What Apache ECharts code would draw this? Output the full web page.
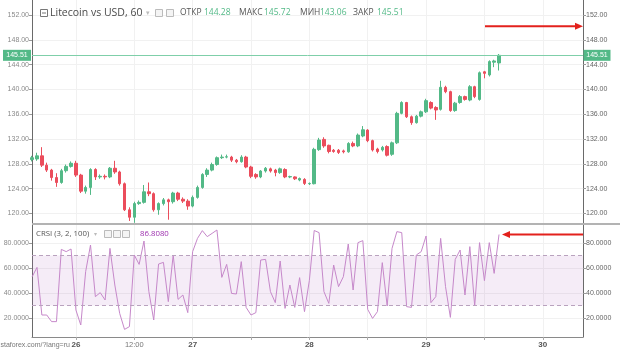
<!DOCTYPE html>
<html><head><meta charset="utf-8">
<script src="https://cdn.jsdelivr.net/npm/echarts@6/dist/echarts.min.js"></script>
<style>html,body{margin:0;padding:0;background:#fff;overflow:hidden}#c{width:620px;height:350px}</style>
</head><body><div id="c"></div>
<script>
// ---- data (hourly candles, first one = 25th 15:00) ----
const opens = [128.7,128.8,129.3,127.8,127.0,125.8,125.0,126.9,127.6,128.1,
126.2,123.6,124.2,127.1,125.9,126.0,125.9,127.3,126.7,124.8,
120.6,119.4,121.6,121.8,123.5,123.2,120.6,121.6,122.2,121.9,
123.3,122.3,122.0,121.2,122.6,124.2,126.3,127.0,127.9,129.0,
129.1,129.1,128.6,128.35,129.1,127.5,126.3,125.9,126.85,127.2,
127.0,126.6,127.1,125.9,125.9,125.4,125.5,124.8,124.8,130.3,
131.95,131.0,130.2,130.2,130.1,129.95,131.3,130.9,132.5,133.45,
131.75,130.4,130.25,130.8,129.55,131.4,136.15,137.9,135.6,134.65,
135.7,136.4,137.9,137.1,136.8,140.35,139.65,136.6,137.9,138.85,
138.3,140.45,138.4,142.85,142.35,144.4,144.28];
const closes = [129.0,129.3,127.8,127.0,125.8,125.0,126.9,127.6,128.1,126.2,
123.6,124.2,127.1,125.9,126.0,125.9,127.3,126.7,124.8,120.6,
119.4,121.6,121.8,123.5,123.2,120.6,121.6,122.2,121.9,123.3,
122.3,122.0,121.2,122.6,124.2,126.3,127.0,127.9,129.0,129.1,
129.15,128.6,128.35,129.1,127.5,126.0,125.9,126.85,127.3,126.85,
126.6,127.2,125.9,125.95,125.6,125.65,124.85,124.85,130.35,131.85,
130.9,130.0,130.0,129.85,129.95,131.3,130.9,132.65,133.5,131.75,
130.25,130.0,130.67,129.4,131.4,136.15,137.9,135.6,134.65,135.7,
136.4,138.2,137.0,136.7,140.35,139.65,136.6,137.8,138.85,138.4,
140.45,138.85,142.7,142.6,144.5,144.6,145.51];
const lows = [128.4,128.5,127.5,126.7,125.3,124.3,124.8,126.6,127.4,125.9,
123.3,123.2,123.0,125.4,125.6,125.5,125.7,126.4,124.5,120.4,
118.8,118.5,121.4,121.6,122.8,120.3,119.8,121.3,119.0,121.6,
122.0,121.7,120.6,121.0,122.4,124.0,125.9,126.8,127.7,128.8,
128.9,128.3,128.1,128.2,127.3,125.7,125.6,125.7,126.6,126.6,
126.0,126.4,125.7,125.7,125.4,125.2,124.6,124.6,124.7,130.1,
130.6,129.7,129.8,129.6,129.7,129.8,130.7,130.7,132.3,131.5,
130.0,129.7,130.0,129.2,129.3,131.2,136.0,135.4,134.3,134.5,
135.5,136.2,136.8,135.1,136.6,139.4,136.4,136.4,137.7,138.2,
138.1,138.6,138.2,141.8,142.1,143.6,143.06];
const highs = [129.3,129.8,130.7,128.2,127.2,126.5,127.2,127.9,128.4,128.5,
126.4,124.5,127.3,127.3,126.3,126.3,127.5,128.5,126.9,125.0,
121.0,121.9,122.1,124.6,125.0,123.4,121.8,122.5,122.4,123.5,
123.5,122.6,122.3,122.9,124.5,126.5,127.3,128.2,129.2,129.5,
129.5,129.3,128.8,129.4,129.3,127.7,126.5,127.0,127.5,127.4,
127.2,127.4,127.3,126.1,126.0,125.8,125.7,125.0,130.6,132.2,
132.3,131.1,130.4,130.4,130.3,131.5,131.6,132.9,134.1,133.6,
131.9,130.6,130.9,131.0,131.6,136.4,138.1,138.0,135.8,135.9,
136.6,138.5,138.1,137.3,141.4,140.6,139.8,138.0,139.1,139.0,
140.7,140.6,142.9,143.0,144.7,144.8,145.72];
const crsi = [53,60.5,22.4,22.4,17.1,17.1,74.9,73.1,75.2,26.4,
14.4,57.1,78.4,37.1,40.3,34.4,75.7,46.4,23.7,10.9,
13.1,70.4,62.9,81.6,41.1,18.4,63.2,64.5,33.1,70.4,
34.9,38.4,24.3,73.1,83.7,89.9,85.1,87.7,90.4,52.5,
62.9,39.7,39.2,65.1,28.5,22.4,24.3,66.4,66.9,41.1,
32.3,65.6,27.7,46.4,28.5,52.3,25.1,50,90,88.3,
41.1,31.7,62.4,45.1,53.1,79.2,42.4,80.3,81.9,26.9,
19.7,25.1,64.3,29.6,75.7,89.1,88.3,29.1,28.5,70.4,
73.1,85.6,32.3,37.1,83.7,45.1,20.5,66.9,74.4,38.4,
77.1,29.6,80.3,49.9,80.3,55.7,86.808];
const priceTicks = [120,124,128,132,136,140,144,148,152];
const crsiTicks = [20,40,60,80];
const timeTicks = [9,21,33,45,57,69,81,93,105];      // hour index of tick
const timeLabels = ['26','12:00','27','','28','','29','','30'];
const crsiBand = [30,70];
const arrowPrice = 150.2;   // level the upper arrow points at

const UP='#53b987', DOWN='#eb4d5c';
const candleData = opens.map((o,i)=>[i,o,closes[i],lows[i],highs[i]]);
const crsiData = crsi.map((v,i)=>[i,v]);
const last = opens.length-1;
const xMin=-0.03, xMax=113.27;

const chart = echarts.init(document.getElementById('c'));
const axisFont = {fontFamily:'Liberation Sans, Arial, sans-serif', fontSize:7};
function yAx(grid,pos,min,max,ticks,dec,lc){
  return {type:'value',gridIndex:grid,position:pos,min:min,max:max,scale:true,
    axisLine:{show:true,onZero:false,lineStyle:{color:'#6a6a6a',width:1}},
    axisTick:{show:true,length:3,customValues:ticks,lineStyle:{color:'#999'}},
    axisLabel:Object.assign({customValues:ticks,color:lc,margin:3,formatter:v=>v.toFixed(dec)},axisFont),
    splitLine:{show:pos==='left',lineStyle:{color:'#f1f1f1',width:1}}};
}
function xAx(grid,showLabels){
  return {type:'value',gridIndex:grid,min:xMin,max:xMax,
    axisLine:{show:showLabels,onZero:false,lineStyle:{color:'#8a8a8a'}},
    axisTick:{show:showLabels,length:3,inside:false,customValues:timeTicks,lineStyle:{color:'#aaa'}},
    axisLabel:{show:showLabels,customValues:timeTicks,margin:4,
      formatter:v=>{const k=timeTicks.indexOf(v);const t=k<0?'':timeLabels[k];
        return t.indexOf(':')>=0?'{n|'+t+'}':(t?'{d|'+t+'}':'');},
      rich:{d:{fontWeight:'bold',fontSize:8,color:'#555',fontFamily:'Liberation Sans, Arial'},
            n:{fontSize:7.5,color:'#777',fontFamily:'Liberation Sans, Arial'}}},
    splitLine:{show:true,lineStyle:{color:'#f1f1f1',width:1}}};
}
const option = {
  animation:false, backgroundColor:'#fff',
  grid:[{left:32,right:37,top:0,height:223,outerBoundsMode:'none'},
        {left:32,right:37,top:225,height:112,outerBoundsMode:'none'}],
  xAxis:[xAx(0,false),xAx(1,true)],
  yAxis:[yAx(0,'left',118.47,154.43,priceTicks,2,'#8a8a8a'),
         yAx(0,'right',118.47,154.43,priceTicks,2,'#666'),
         yAx(1,'left',4.8,94.4,crsiTicks,4,'#8a8a8a'),
         yAx(1,'right',4.8,94.4,crsiTicks,4,'#666')],
  series:[
    {type:'candlestick',xAxisIndex:0,yAxisIndex:0,data:candleData,encode:{x:0,y:[1,2,3,4]},
     barWidth:3,clip:true,
     itemStyle:{color:UP,color0:DOWN,borderColor:UP,borderColor0:DOWN,borderWidth:1},
     markLine:{silent:true,symbol:'none',animation:false,label:{show:false},
       lineStyle:{color:'#7fcfa9',width:1,type:'solid',opacity:1},data:[{yAxis:closes[last]}]}},
    {type:'line',xAxisIndex:1,yAxisIndex:2,data:crsiData,showSymbol:false,
     lineStyle:{color:'#c688ca',width:1},itemStyle:{color:'#c688ca'},
     markArea:{silent:true,itemStyle:{color:'rgba(175,95,190,0.12)'},
       data:[[{yAxis:crsiBand[0]},{yAxis:crsiBand[1]}]]},
     markLine:{silent:true,symbol:'none',label:{show:false},
       lineStyle:{color:'#b9a2be',width:1,type:[4,3]},
       data:[{yAxis:crsiBand[0]},{yAxis:crsiBand[1]}]}}
  ]
};
chart.setOption(option);

// ---- annotations positioned through the chart's scales ----
const yL = chart.convertToPixel({yAxisIndex:0}, closes[last]);
const yA = chart.convertToPixel({yAxisIndex:1}, arrowPrice);
const pC = chart.convertToPixel({xAxisIndex:1,yAxisIndex:2},[last,crsi[last]]);
const RED='#e3211c';
const F='"Open Sans", "Liberation Sans", Arial, sans-serif';
function box(x,y){return {type:'rect',shape:{x:x,y:y,width:7,height:7},style:{fill:'#f4f4f4',stroke:'#bbb',lineWidth:1}};}
const g = [
  {type:'line',shape:{x1:32,y1:224,x2:620,y2:224},style:{stroke:'#b3b3b3',lineWidth:2},z:50},
  // price labels
  {type:'rect',shape:{x:3,y:yL-5.5,width:28,height:11},style:{fill:UP},z:60},
  {type:'text',style:{x:17,y:yL,text:closes[last].toFixed(2),fill:'#fff',font:'7px Liberation Sans, Arial',align:'center',verticalAlign:'middle'},z:61},
  {type:'rect',shape:{x:583.5,y:yL-5.5,width:27,height:11},style:{fill:UP},z:60},
  {type:'text',style:{x:597,y:yL,text:closes[last].toFixed(2),fill:'#fff',font:'7px Liberation Sans, Arial',align:'center',verticalAlign:'middle'},z:61},
  // main legend
  {type:'rect',shape:{x:40.5,y:9.5,width:7,height:7},style:{fill:'#fff',stroke:'#777',lineWidth:1},z:60},
  {type:'line',shape:{x1:42,y1:13,x2:46,y2:13},style:{stroke:'#777',lineWidth:1},z:60},
  {type:'text',style:{x:50,y:13,text:'Litecoin vs USD, 60',fill:'#4a4a4a',font:'10.5px '+F,verticalAlign:'middle'},z:60},
  {type:'text',style:{x:146,y:13,text:'▾',fill:'#bbb',font:'7px DejaVu Sans',verticalAlign:'middle'},z:60},
  Object.assign(box(155.5,9.5),{z:60}), Object.assign(box(166.5,9.5),{z:60}),
  {type:'text',style:{x:180,y:13,text:'ОТКР',fill:'#555',font:'8.5px '+F,verticalAlign:'middle'},z:60},
  {type:'text',style:{x:204,y:13,text:opens[last].toFixed(2),fill:UP,font:'8.5px '+F,verticalAlign:'middle'},z:60},
  {type:'text',style:{x:239,y:13,text:'МАКС',fill:'#555',font:'8.5px '+F,verticalAlign:'middle'},z:60},
  {type:'text',style:{x:264,y:13,text:highs[last].toFixed(2),fill:UP,font:'8.5px '+F,verticalAlign:'middle'},z:60},
  {type:'text',style:{x:300,y:13,text:'МИН',fill:'#555',font:'8.5px '+F,verticalAlign:'middle'},z:60},
  {type:'text',style:{x:320,y:13,text:lows[last].toFixed(2),fill:UP,font:'8.5px '+F,verticalAlign:'middle'},z:60},
  {type:'text',style:{x:353,y:13,text:'ЗАКР',fill:'#555',font:'8.5px '+F,verticalAlign:'middle'},z:60},
  {type:'text',style:{x:377,y:13,text:closes[last].toFixed(2),fill:UP,font:'8.5px '+F,verticalAlign:'middle'},z:60},
  // CRSI legend
  {type:'text',style:{x:36,y:234,text:'CRSI (3, 2, 100)',fill:'#555',font:'7.8px '+F,verticalAlign:'middle'},z:60},
  {type:'text',style:{x:94,y:234,text:'▾',fill:'#bbb',font:'6px DejaVu Sans',verticalAlign:'middle'},z:60},
  Object.assign(box(104.5,230.5),{z:60}), Object.assign(box(113.5,230.5),{z:60}), Object.assign(box(122.5,230.5),{z:60}),
  {type:'text',style:{x:140,y:234,text:crsi[last].toFixed(4),fill:'#9c2fae',font:'7.8px '+F,verticalAlign:'middle'},z:60},
  // watermark
  {type:'text',style:{x:-5,y:345,text:'instaforex.com/?lang=ru',fill:'#777',font:'7px Liberation Sans, Arial',verticalAlign:'middle',
     backgroundColor:'rgba(255,255,255,0.92)',padding:[1,0,1,0]},z:70},
  // red arrows
  {type:'line',shape:{x1:485,y1:yA,x2:576,y2:yA},style:{stroke:RED,lineWidth:2},z:80},
  {type:'polygon',shape:{points:[[583,yA],[575,yA-3.5],[575,yA+3.5]]},style:{fill:RED},z:80},
  {type:'line',shape:{x1:583,y1:pC[1],x2:pC[0]+10,y2:pC[1]},style:{stroke:RED,lineWidth:2},z:80},
  {type:'polygon',shape:{points:[[pC[0]+3,pC[1]],[pC[0]+11,pC[1]-3.5],[pC[0]+11,pC[1]+3.5]]},style:{fill:RED},z:80}
];
chart.setOption({graphic:g});
</script></body></html>
